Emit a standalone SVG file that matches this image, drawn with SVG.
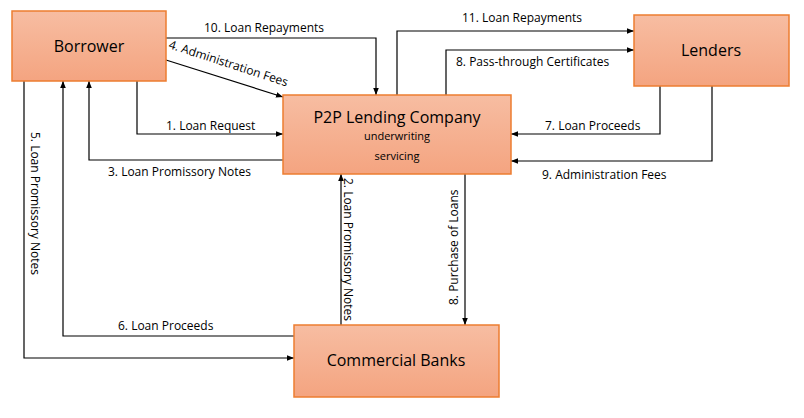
<svg xmlns="http://www.w3.org/2000/svg" width="804" height="418" viewBox="0 0 804 418">
<defs>
<linearGradient id="g" x1="0" y1="0" x2="0" y2="1"><stop offset="0" stop-color="#f7bda2"/><stop offset="1" stop-color="#f4a480"/></linearGradient>
<marker id="a" viewBox="0 0 10 10" refX="10" refY="5" markerWidth="7" markerHeight="7" orient="auto-start-reverse" markerUnits="userSpaceOnUse"><path d="M0,1 L10,5 L0,9 z" fill="#000"/></marker>
</defs>
<style>
.box{fill:url(#g);stroke:#ed7d31;stroke-width:1.5}
.t{font-family:"Open Sans","Liberation Sans",sans-serif;fill:#000}
.big{font-size:16px}
.lbl{font-size:12px}
.c{fill:none;stroke:#000;stroke-width:1.2;marker-end:url(#a)}
</style>
<rect width="804" height="418" fill="#fff"/>
<g id="connectors">
<path class="c" d="M166,38 H376 V95"/>
<path class="c" d="M166,60 L283,97"/>
<path class="c" d="M137,81 V134 H283"/>
<path class="c" d="M283,160 H89 V81"/>
<path class="c" d="M24,81 V358 H294"/>
<path class="c" d="M294,336 H63 V81"/>
<path class="c" d="M341,325 V174"/>
<path class="c" d="M465,174 V325"/>
<path class="c" d="M397,95 V31 H634"/>
<path class="c" d="M446,95 V50 H634"/>
<path class="c" d="M660,86 V134 H511"/>
<path class="c" d="M712,86 V161 H511"/>
<text class="t lbl" x="204" y="32">10. Loan Repayments</text>
<text class="t lbl" transform="translate(168,48) rotate(18)">4. Administration Fees</text>
<text class="t lbl" x="166" y="130">1. Loan Request</text>
<text class="t lbl" x="108" y="176">3. Loan Promissory Notes</text>
<text class="t lbl" transform="translate(31,132) rotate(90)">5. Loan Promissory Notes</text>
<text class="t lbl" x="118" y="330">6. Loan Proceeds</text>
<text class="t lbl" transform="translate(344,178) rotate(90)">2. Loan Promissory Notes</text>
<text class="t lbl" transform="translate(458,305) rotate(-90)">8. Purchase of Loans</text>
<text class="t lbl" x="462" y="22">11. Loan Repayments</text>
<text class="t lbl" x="456" y="66">8. Pass-through Certificates</text>
<text class="t lbl" x="545" y="130">7. Loan Proceeds</text>
<text class="t lbl" x="542" y="179">9. Administration Fees</text>
</g>
<g id="borrower"><rect class="box" x="12" y="11" width="154" height="70"/><text class="t big" x="89" y="52" text-anchor="middle">Borrower</text></g>
<g id="p2p"><rect class="box" x="283" y="95" width="228" height="79"/><text class="t big" x="397" y="123" text-anchor="middle">P2P Lending Company</text><text class="t" font-size="11" x="397" y="140" text-anchor="middle">underwriting</text><text class="t" font-size="11" x="397" y="160" text-anchor="middle">servicing</text></g>
<g id="lenders"><rect class="box" x="634" y="15" width="155" height="71"/><text class="t big" x="711" y="56" text-anchor="middle">Lenders</text></g>
<g id="banks"><rect class="box" x="294" y="325" width="205" height="72"/><text class="t big" x="396" y="366" text-anchor="middle">Commercial Banks</text></g>
</svg>
